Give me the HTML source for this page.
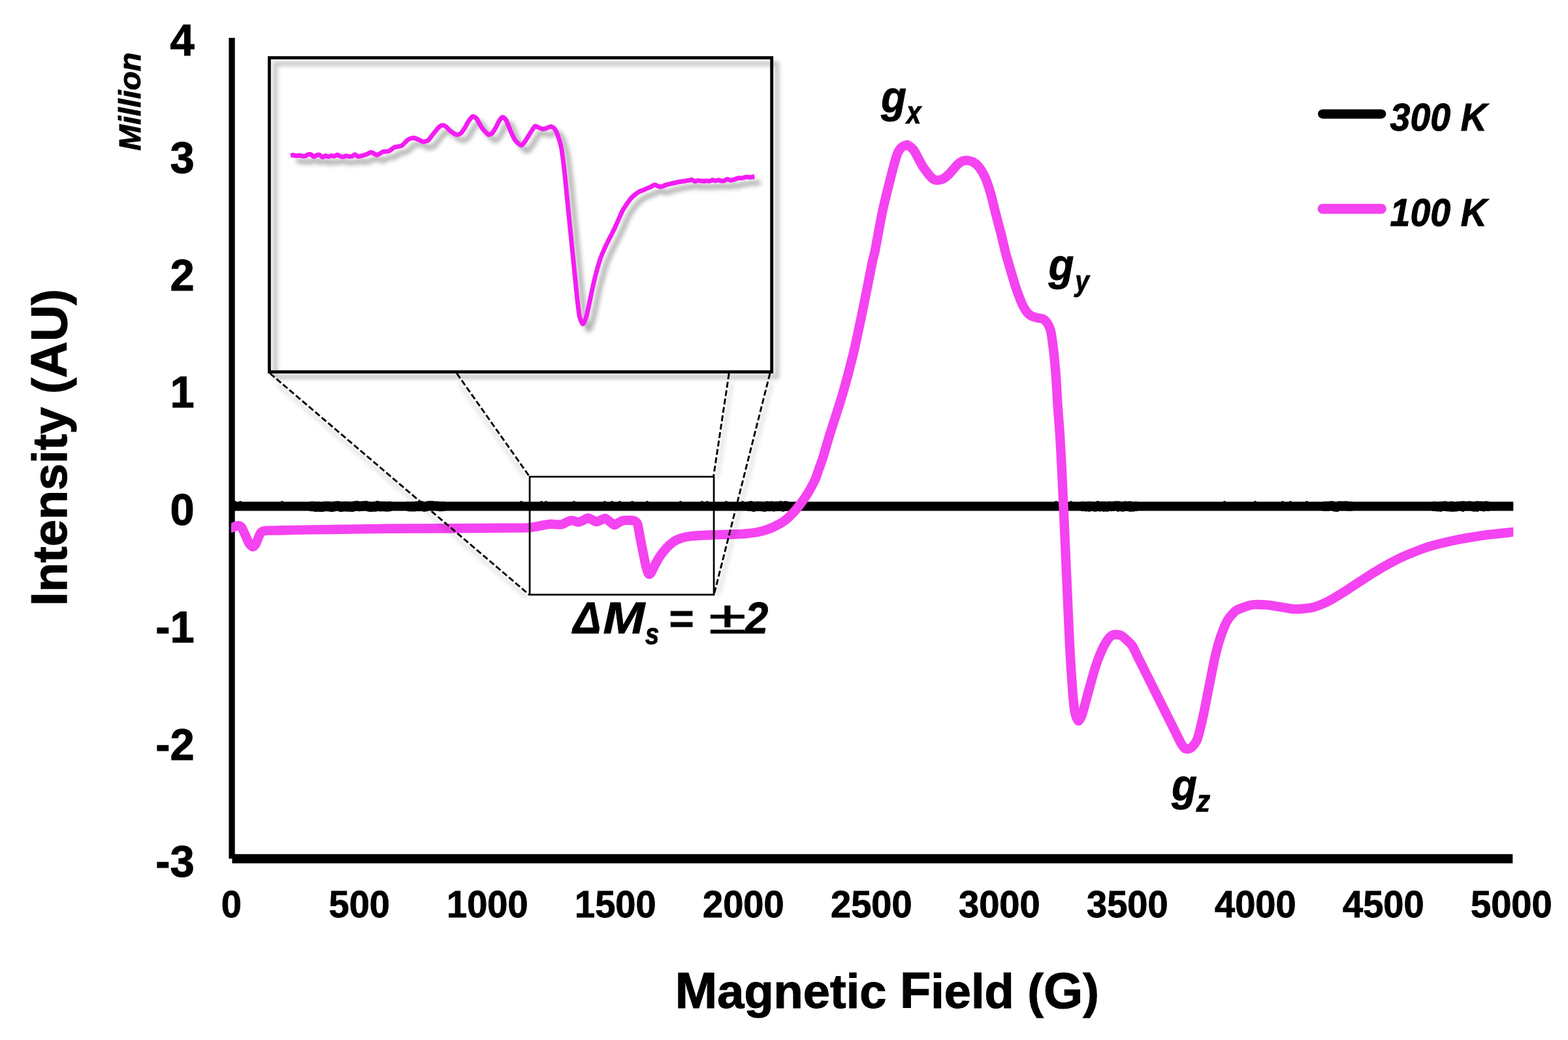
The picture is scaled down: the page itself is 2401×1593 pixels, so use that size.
<!DOCTYPE html>
<html lang="en"><head><meta charset="utf-8"><title>EPR spectrum</title>
<style>
html,body{margin:0;padding:0;background:#fff;}
body{width:2401px;height:1593px;overflow:hidden;font-family:"Liberation Sans",sans-serif;}
svg{display:block;}
</style></head><body>
<svg width="2401" height="1593" viewBox="0 0 2401 1593">
<defs>
<filter id="sh" x="-5%" y="-5%" width="115%" height="115%" filterUnits="objectBoundingBox">
<feGaussianBlur in="SourceAlpha" stdDeviation="3.5"/><feOffset dx="8.5" dy="8.5"/>
<feComponentTransfer><feFuncA type="linear" slope="0.34"/></feComponentTransfer>
<feMerge><feMergeNode/><feMergeNode in="SourceGraphic"/></feMerge>
</filter>
<filter id="bl" x="-20%" y="-20%" width="140%" height="140%"><feGaussianBlur stdDeviation="3"/></filter>
<filter id="bl2" x="-5%" y="-5%" width="110%" height="110%"><feGaussianBlur stdDeviation="3.0"/></filter>
</defs>
<rect x="0" y="0" width="2401" height="1593" fill="#fff"/>
<rect x="350.4" y="58" width="9.3" height="1257.2" fill="#000"/>
<rect x="355.4" y="1308.3" width="1960.9" height="14.1" fill="#000"/>
<path d="M355 775.6H2317.3" fill="none" stroke="#000" stroke-width="14.0"/>
<path d="M477.0 775.6L480.0 775.6L483.5 776.5L487.0 775.9L490.5 776.5L494.0 776.5L497.5 775.6L501.0 775.6L504.5 775.9L508.0 776.5L511.5 775.9L515.0 775.0L518.5 775.0L522.0 776.5L525.5 775.9L529.0 775.6L532.5 776.2L536.0 775.9L539.5 776.5L543.0 775.0L546.5 774.7L550.0 775.6L553.5 775.3L557.0 775.0L560.5 774.7L564.0 775.9L567.5 776.5L571.0 776.2L574.5 776.2L578.0 774.7L581.5 775.9L585.0 775.6L588.5 775.6L592.0 776.2L597.0 775.6" fill="none" stroke="#000" stroke-width="15.2" stroke-linejoin="round" stroke-linecap="round"/>
<path d="M625.0 775.6L628.0 776.2L631.5 775.9L635.0 776.2L638.5 775.0L642.0 775.9L645.5 774.7L649.0 776.5L652.5 775.9L656.0 774.7L659.5 774.7L663.0 774.7L666.5 775.0L670.0 775.0L673.5 775.9L679.0 775.6" fill="none" stroke="#000" stroke-width="14.7" stroke-linejoin="round" stroke-linecap="round"/>
<path d="M1147.0 775.6L1150.0 774.7L1153.5 776.5L1157.0 775.6L1160.5 775.3L1164.0 775.6L1167.5 775.9L1171.0 776.5L1174.5 775.0L1178.0 775.9L1181.5 775.0L1185.0 776.2L1188.5 775.3L1192.0 775.6L1195.5 774.7L1199.0 776.2L1202.5 774.7L1206.0 775.6" fill="none" stroke="#000" stroke-width="14.8" stroke-linejoin="round" stroke-linecap="round"/>
<path d="M1657.0 775.6L1660.0 775.6L1663.5 776.2L1667.0 775.3L1670.5 775.6L1674.0 775.9L1677.5 776.5L1681.0 774.7L1684.5 776.2L1688.0 775.3L1691.5 775.3L1695.0 776.5L1698.5 775.0L1702.0 775.9L1705.5 775.3L1709.0 774.7L1712.5 774.7L1716.0 775.9L1719.5 776.5L1723.0 774.7L1726.5 775.6L1730.0 774.7L1733.5 776.5L1740.0 775.6" fill="none" stroke="#000" stroke-width="14.6" stroke-linejoin="round" stroke-linecap="round"/>
<path d="M2027.0 775.6L2030.0 775.3L2033.5 775.6L2037.0 774.7L2040.5 774.7L2044.0 776.5L2047.5 776.2L2051.0 774.7L2054.5 775.0L2058.0 775.0L2061.5 774.7L2065.0 775.6L2069.0 775.6" fill="none" stroke="#000" stroke-width="14.5" stroke-linejoin="round" stroke-linecap="round"/>
<path d="M2195.0 775.6L2198.0 775.6L2201.5 776.2L2205.0 775.6L2208.5 775.6L2212.0 774.7L2215.5 775.9L2219.0 776.2L2222.5 775.0L2226.0 776.5L2229.5 776.2L2233.0 775.3L2236.5 775.3L2240.0 774.7L2243.5 775.3L2247.0 775.3L2250.5 774.7L2254.0 775.6L2257.5 776.5L2261.0 774.7L2264.5 775.0L2268.0 775.0L2271.5 776.2L2275.0 774.7L2279.0 775.6" fill="none" stroke="#000" stroke-width="14.6" stroke-linejoin="round" stroke-linecap="round"/>
<g fill="#000"><circle cx="360" cy="769.9" r="2.6"/><circle cx="368" cy="769.9" r="2.6"/><circle cx="432" cy="769.9" r="2.6"/><circle cx="798" cy="769.9" r="2.6"/><circle cx="829" cy="769.9" r="2.6"/><circle cx="836" cy="769.9" r="2.6"/><circle cx="879" cy="769.9" r="2.6"/><circle cx="926" cy="769.9" r="2.6"/><circle cx="937" cy="769.9" r="2.6"/><circle cx="949" cy="769.9" r="2.6"/><circle cx="968" cy="769.9" r="2.6"/><circle cx="991" cy="769.9" r="2.6"/><circle cx="1042" cy="769.9" r="2.6"/><circle cx="1075" cy="769.9" r="2.6"/><circle cx="1083" cy="769.9" r="2.6"/><circle cx="1112" cy="769.9" r="2.6"/><circle cx="1137" cy="769.9" r="2.6"/><circle cx="1617" cy="769.9" r="2.6"/><circle cx="1640" cy="769.9" r="2.6"/><circle cx="1875" cy="769.9" r="2.6"/><circle cx="1922" cy="769.9" r="2.6"/><circle cx="1964" cy="769.9" r="2.6"/><circle cx="1976" cy="769.9" r="2.6"/><circle cx="2001" cy="769.9" r="2.6"/><circle cx="1668" cy="781.3" r="2.6"/><circle cx="1690" cy="781.3" r="2.6"/><circle cx="1712" cy="781.3" r="2.6"/><circle cx="1730" cy="781.3" r="2.6"/><circle cx="2048" cy="781.3" r="2.6"/><circle cx="2206" cy="781.3" r="2.6"/><circle cx="2222" cy="781.3" r="2.6"/><circle cx="2240" cy="781.3" r="2.6"/><circle cx="2262" cy="781.3" r="2.6"/></g>
<clipPath id="cp"><rect x="354" y="0" width="1963.3" height="1593"/></clipPath>
<path clip-path="url(#cp)" d="M350.0 809.3C350.6 809.2 354.8 808.9 356.0 808.6C357.2 808.3 360.0 806.6 361.0 806.3C362.0 806.0 364.5 805.2 365.5 805.5C366.5 805.8 369.4 807.3 370.5 809.0C371.6 810.7 374.8 818.4 376.0 821.0C377.2 823.6 380.3 831.2 381.5 833.0C382.7 834.8 385.9 837.9 387.0 837.9C388.1 837.9 391.0 834.6 392.0 833.0C393.0 831.4 395.1 824.9 396.0 823.0C396.9 821.1 398.9 816.5 400.0 815.5C401.1 814.5 404.2 813.5 406.0 813.2C407.8 812.9 411.8 813.1 416.5 813.0C421.2 812.9 441.1 812.5 450.0 812.3C458.9 812.1 484.5 811.7 500.0 811.5C515.5 811.3 573.7 810.4 595.0 810.2C616.3 810.0 679.2 809.7 700.0 809.6C720.8 809.5 778.2 809.1 790.0 809.0C801.8 808.9 807.6 808.7 811.0 808.5C814.4 808.3 819.4 807.2 822.0 806.8C824.6 806.4 832.7 804.7 835.0 804.3C837.3 803.9 842.1 803.3 844.0 803.2C845.9 803.1 851.2 803.8 853.0 803.8C854.8 803.8 858.9 804.0 860.5 803.6C862.1 803.2 866.5 800.7 868.0 800.0C869.5 799.3 873.5 797.6 874.8 797.5C876.1 797.4 878.8 798.3 880.0 798.6C881.2 798.9 884.4 800.4 885.8 800.3C887.2 800.2 891.5 798.2 893.0 797.5C894.5 796.8 898.7 794.0 900.1 793.9C901.5 793.8 905.1 795.9 906.5 796.5C907.9 797.1 911.9 799.5 913.3 799.6C914.7 799.7 918.6 797.6 920.0 797.0C921.4 796.4 925.1 794.1 926.5 794.3C927.9 794.5 931.5 797.7 933.0 798.8C934.5 799.9 939.3 804.4 940.8 804.6C942.3 804.8 945.6 801.7 947.0 801.0C948.4 800.3 952.5 798.1 954.0 797.7C955.5 797.3 959.5 797.3 961.0 797.3C962.5 797.3 967.0 797.3 968.3 797.5C969.6 797.7 972.1 798.3 973.0 799.0C973.9 799.7 975.7 801.2 976.5 804.0C977.3 806.8 979.5 820.4 980.4 825.0C981.3 829.6 983.9 842.4 984.8 847.0C985.7 851.6 988.3 864.5 989.2 868.0C990.1 871.5 992.7 878.8 993.6 879.8C994.5 880.8 996.7 878.2 997.5 877.0C998.3 875.8 1000.1 871.4 1001.3 869.0C1002.5 866.6 1007.0 857.8 1009.0 854.7C1011.0 851.6 1017.7 843.0 1020.0 840.4C1022.3 837.8 1028.7 832.1 1031.0 830.5C1033.3 828.9 1039.0 826.0 1042.0 825.0C1045.0 824.0 1053.3 822.1 1058.7 821.5C1064.1 820.9 1085.5 819.9 1092.7 819.6C1099.9 819.3 1121.0 818.9 1126.6 818.7C1132.2 818.5 1141.4 817.9 1145.0 817.5C1148.6 817.1 1157.4 816.0 1160.5 815.4C1163.6 814.8 1171.3 812.7 1174.0 811.8C1176.7 810.9 1182.9 808.5 1186.0 806.9C1189.1 805.3 1199.4 799.6 1203.0 796.7C1206.6 793.8 1216.3 784.0 1219.9 779.7C1223.5 775.4 1233.8 760.9 1236.9 756.0C1240.0 751.1 1246.9 737.7 1248.7 733.9C1250.5 730.1 1252.2 723.6 1253.5 720.0C1254.8 716.4 1258.8 705.8 1260.6 700.0C1262.4 694.2 1267.6 675.5 1270.8 665.3C1274.0 655.1 1286.4 617.2 1290.2 604.1C1294.0 591.0 1303.3 556.0 1306.5 542.9C1309.7 529.8 1317.5 492.5 1319.8 481.6C1322.1 470.7 1326.3 449.5 1328.0 440.8C1329.7 432.1 1334.9 405.8 1336.1 400.0C1337.3 394.2 1338.0 394.1 1339.6 386.0C1341.2 377.9 1348.8 335.7 1351.4 323.6C1354.0 311.5 1361.5 281.8 1363.8 272.7C1366.1 263.6 1371.4 243.6 1373.1 238.7C1374.8 233.8 1378.3 228.3 1380.0 226.6C1381.7 224.9 1387.0 222.4 1388.6 222.3C1390.2 222.2 1393.5 224.8 1394.7 225.8C1395.9 226.8 1398.4 229.0 1400.3 232.0C1402.2 235.0 1409.6 249.9 1412.1 254.0C1414.6 258.1 1422.1 267.7 1424.0 270.0C1425.9 272.3 1428.7 274.5 1430.0 275.2C1431.3 275.9 1434.4 276.4 1435.9 276.3C1437.4 276.2 1442.2 275.4 1444.0 274.5C1445.8 273.6 1450.4 270.0 1452.8 267.6C1455.2 265.2 1464.1 254.5 1466.4 252.3C1468.7 250.1 1472.4 247.7 1474.0 247.0C1475.6 246.3 1480.0 246.0 1481.7 246.2C1483.4 246.4 1488.2 247.5 1490.0 248.5C1491.8 249.5 1496.7 253.1 1498.7 255.7C1500.7 258.3 1506.8 268.2 1508.8 272.7C1510.8 277.2 1515.5 291.8 1517.3 298.1C1519.1 304.4 1524.2 325.7 1525.8 332.0C1527.4 338.3 1531.1 351.7 1532.6 357.5C1534.1 363.3 1538.3 381.5 1539.4 386.0C1540.5 390.5 1541.6 394.2 1543.3 400.0C1545.0 405.8 1553.4 434.3 1555.5 440.8C1557.6 447.3 1561.7 457.7 1563.0 461.0C1564.3 464.3 1566.7 469.5 1567.8 471.4C1568.9 473.3 1571.9 477.7 1573.0 479.0C1574.1 480.3 1576.4 482.8 1578.0 483.7C1579.6 484.6 1586.5 486.8 1588.2 487.3C1589.9 487.8 1592.9 487.7 1594.0 488.0C1595.1 488.3 1597.4 489.1 1598.4 489.8C1599.4 490.5 1602.4 493.3 1603.5 495.0C1604.6 496.7 1607.6 502.1 1608.6 506.1C1609.6 510.1 1611.8 525.5 1612.7 532.7C1613.6 539.9 1615.9 563.7 1616.7 573.5C1617.5 583.3 1619.1 614.7 1619.8 624.5C1620.5 634.3 1622.2 655.1 1622.9 665.3C1623.6 675.5 1625.1 704.6 1625.9 720.0C1626.7 735.4 1629.1 790.8 1630.0 810.0C1630.9 829.2 1633.1 880.9 1634.0 900.0C1634.9 919.1 1637.1 972.2 1638.0 989.3C1638.9 1006.4 1641.6 1049.7 1642.5 1060.7C1643.4 1071.7 1645.1 1087.3 1646.0 1092.0C1646.9 1096.7 1650.2 1104.3 1651.4 1104.6C1652.6 1104.9 1655.7 1098.7 1657.0 1095.0C1658.3 1091.3 1661.9 1077.1 1664.0 1069.6C1666.1 1062.1 1673.9 1032.8 1676.4 1025.0C1678.9 1017.2 1685.0 1001.2 1687.1 996.4C1689.2 991.6 1694.4 982.8 1696.0 980.4C1697.6 978.0 1700.7 974.9 1702.0 974.0C1703.3 973.1 1707.1 972.5 1708.6 972.4C1710.1 972.3 1714.5 972.8 1716.0 973.5C1717.5 974.2 1721.0 976.9 1722.9 978.6C1724.8 980.3 1731.3 985.9 1733.6 989.3C1735.9 992.7 1741.6 1005.4 1744.3 1010.7C1747.0 1016.0 1755.5 1033.2 1758.6 1039.3C1761.7 1045.4 1770.0 1062.2 1772.9 1067.9C1775.8 1073.6 1782.7 1087.6 1785.4 1092.9C1788.1 1098.2 1795.4 1113.0 1797.9 1117.9C1800.4 1122.8 1806.9 1136.2 1808.6 1139.3C1810.3 1142.4 1812.9 1145.6 1814.0 1146.5C1815.1 1147.4 1818.0 1147.9 1819.3 1147.6C1820.6 1147.3 1824.5 1145.7 1826.0 1144.0C1827.5 1142.3 1831.8 1137.2 1833.6 1132.1C1835.4 1127.0 1840.6 1105.0 1842.5 1096.4C1844.4 1087.8 1849.5 1061.3 1851.4 1051.8C1853.3 1042.3 1858.5 1015.3 1860.4 1007.1C1862.3 998.9 1867.2 981.1 1869.3 975.0C1871.4 968.9 1877.5 954.2 1880.0 950.0C1882.5 945.8 1889.3 938.0 1892.5 935.7C1895.7 933.4 1907.4 929.6 1910.4 928.6C1913.4 927.6 1917.2 926.7 1920.4 926.5C1923.6 926.3 1936.6 926.7 1940.8 927.1C1945.0 927.5 1955.6 929.3 1960.0 930.0C1964.4 930.7 1977.5 933.0 1981.6 933.3C1985.7 933.6 1994.7 932.8 1998.0 932.5C2001.3 932.2 2008.5 931.3 2012.2 930.2C2015.9 929.1 2027.2 924.8 2032.7 922.0C2038.2 919.2 2055.7 908.5 2063.3 903.7C2070.9 898.9 2095.4 882.3 2104.1 877.1C2112.8 871.9 2136.2 858.8 2144.9 854.7C2153.6 850.6 2177.0 841.2 2185.7 838.4C2194.4 835.6 2217.8 830.1 2226.5 828.2C2235.2 826.3 2257.6 822.4 2267.3 821.0C2277.0 819.6 2311.1 816.0 2317.3 815.3C2323.5 814.6 2324.2 814.6 2325.0 814.5" fill="none" stroke="#F443F1" stroke-width="14.4" stroke-linejoin="round" stroke-linecap="butt" transform="translate(0 -0.4)"/>
<line x1="424.1" y1="588.5" x2="807.0" y2="915.5" stroke="#000" stroke-opacity="0.15" stroke-width="4" filter="url(#bl)"/>
<line x1="703.0" y1="587.0" x2="805.5" y2="732.5" stroke="#000" stroke-opacity="0.15" stroke-width="4" filter="url(#bl)"/>
<line x1="1120.5" y1="586.0" x2="1098.6" y2="731.5" stroke="#000" stroke-opacity="0.15" stroke-width="4" filter="url(#bl)"/>
<line x1="1182.0" y1="586.5" x2="1099.5" y2="912.5" stroke="#000" stroke-opacity="0.15" stroke-width="4" filter="url(#bl)"/>
<rect x="421.4" y="97.4" width="768.4" height="479.8" fill="none" stroke="#000" stroke-opacity="0.25" stroke-width="6.2" filter="url(#bl2)"/>
<rect x="412.4" y="88.5" width="769.3" height="481.15" fill="none" stroke="#000" stroke-width="4.8"/>
<g filter="url(#sh)">
<path d="M445.0 238.4C445.4 238.3 448.1 237.4 449.0 237.4C449.9 237.5 452.6 238.7 453.5 238.8C454.4 238.9 457.1 238.0 458.0 238.0C458.9 238.1 461.6 238.9 462.5 239.1C463.4 239.2 466.1 239.4 467.0 239.2C467.9 238.9 470.6 237.0 471.5 236.7C472.4 236.4 475.1 236.1 476.0 236.5C476.9 236.8 479.6 240.0 480.5 240.1C481.4 240.2 484.1 237.8 485.0 237.5C485.9 237.3 488.6 237.1 489.5 237.4C490.4 237.8 493.1 240.7 494.0 240.8C494.9 240.9 497.6 238.5 498.5 238.5C499.4 238.4 502.1 240.1 503.0 240.1C503.9 240.1 506.6 238.6 507.5 238.5C508.4 238.4 511.1 239.4 512.0 239.2C512.9 239.1 515.6 237.1 516.5 237.1C517.4 237.1 520.1 238.9 521.0 239.2C521.9 239.5 524.6 240.3 525.5 240.2C526.4 240.2 529.1 238.8 530.0 238.7C530.9 238.6 533.6 239.6 534.5 239.7C535.4 239.7 538.1 239.7 539.0 239.4C539.9 239.1 542.6 236.6 543.5 236.7C544.4 236.7 547.1 239.5 548.0 239.7C548.9 240.0 551.2 239.3 552.5 239.0C553.8 238.7 559.5 237.1 561.0 236.5C562.5 235.9 566.8 233.4 568.0 233.3C569.2 233.2 572.1 235.1 573.0 235.5C573.9 235.9 576.4 237.6 577.3 237.5C578.2 237.4 581.1 235.5 582.0 235.0C582.9 234.5 585.3 232.7 586.6 232.4C587.9 232.1 593.8 231.9 595.0 231.6C596.2 231.3 598.1 229.6 599.0 229.0C599.9 228.4 602.6 226.1 603.6 225.7C604.6 225.3 607.8 224.9 609.0 224.6C610.2 224.3 614.4 223.7 615.4 223.1C616.4 222.5 618.6 219.8 619.5 219.0C620.4 218.2 622.9 215.3 623.9 214.6C624.9 213.9 628.0 212.3 629.0 212.0C630.0 211.7 632.9 211.0 634.1 211.2C635.3 211.4 639.6 213.4 641.0 214.0C642.4 214.6 646.6 217.0 647.7 217.2C648.8 217.4 651.2 216.6 652.0 216.3C652.8 216.0 655.1 215.5 656.1 214.6C657.1 213.7 660.8 208.5 662.0 207.0C663.2 205.5 666.9 200.7 668.0 199.4C669.1 198.1 672.0 194.8 673.0 194.0C674.0 193.2 677.2 191.7 678.2 191.7C679.2 191.7 681.8 193.1 683.0 194.0C684.2 194.9 688.4 199.8 690.0 201.0C691.6 202.2 697.1 205.8 698.6 206.2C700.1 206.5 704.1 205.4 705.3 204.5C706.5 203.6 709.8 198.8 711.0 197.0C712.2 195.2 715.7 188.4 717.0 186.5C718.3 184.6 722.7 178.6 724.0 178.2C725.3 177.8 728.6 180.2 730.0 182.0C731.4 183.8 736.2 193.6 738.0 196.0C739.8 198.4 746.2 205.4 747.8 206.2C749.4 206.9 752.8 204.7 754.0 203.5C755.2 202.3 758.9 195.9 760.0 194.0C761.1 192.1 764.0 185.4 765.0 184.0C766.0 182.6 768.8 179.6 769.8 179.6C770.8 179.6 773.8 181.9 775.0 184.0C776.2 186.1 780.4 197.5 781.8 200.6C783.2 203.7 787.4 212.8 789.0 215.0C790.6 217.2 796.2 222.1 797.6 222.4C799.0 222.7 801.7 219.7 803.0 218.0C804.3 216.3 809.7 207.3 810.9 205.4C812.1 203.5 814.1 200.2 815.0 199.0C815.9 197.8 818.5 193.7 819.4 193.3C820.3 192.9 822.9 194.6 824.0 195.0C825.1 195.4 829.0 197.3 830.3 197.4C831.6 197.5 835.7 196.7 837.0 196.3C838.3 195.9 842.4 193.7 843.6 193.8C844.8 193.9 848.0 195.8 849.0 197.0C850.0 198.2 852.3 202.6 853.3 205.4C854.3 208.2 858.2 219.2 859.3 224.8C860.4 230.4 863.2 252.7 864.2 261.2C865.2 269.7 868.0 299.9 869.0 309.6C870.0 319.3 872.9 348.4 873.9 358.1C874.9 367.8 877.7 396.8 878.7 406.5C879.7 416.2 882.8 447.2 883.6 455.0C884.5 462.8 886.4 480.0 887.2 484.1C888.1 488.2 891.2 495.6 892.1 496.2C893.0 496.8 895.3 491.7 896.0 490.0C896.7 488.3 898.4 483.2 899.3 479.2C900.2 475.2 904.1 456.2 905.4 450.2C906.7 444.1 911.2 424.3 912.7 418.7C914.2 413.1 918.2 399.0 919.9 394.4C921.6 389.8 927.4 377.2 929.6 372.6C931.8 368.0 939.3 353.5 941.7 348.4C944.1 343.3 951.6 325.8 953.8 321.7C956.0 317.6 961.9 309.4 963.5 307.2C965.1 305.0 968.5 301.3 970.0 300.0C971.5 298.7 976.6 294.8 978.1 293.9C979.6 293.0 983.5 291.8 985.0 291.2C986.5 290.6 991.4 288.3 992.6 287.8C993.8 287.3 996.0 286.5 997.0 286.0C998.0 285.5 1001.3 283.1 1002.3 283.0C1003.3 282.9 1006.0 284.5 1007.0 284.8C1008.0 285.1 1010.8 286.2 1012.0 286.1C1013.2 286.0 1017.5 283.9 1019.0 283.5C1020.5 283.1 1024.6 282.1 1026.5 281.7C1028.4 281.2 1035.6 279.5 1038.0 279.0C1040.4 278.5 1049.1 277.2 1050.8 276.9C1052.5 276.6 1054.1 276.4 1055.0 276.2C1055.9 276.1 1058.6 275.2 1059.5 275.3C1060.4 275.5 1063.1 277.6 1064.0 277.7C1064.9 277.8 1067.6 276.5 1068.5 276.5C1069.4 276.4 1072.1 277.0 1073.0 277.1C1073.9 277.2 1076.6 277.5 1077.5 277.5C1078.4 277.5 1081.1 276.9 1082.0 276.9C1082.9 276.9 1085.6 277.6 1086.5 277.4C1087.4 277.3 1090.1 275.8 1091.0 275.8C1091.9 275.7 1094.6 276.9 1095.5 276.9C1096.4 276.9 1099.1 275.7 1100.0 275.7C1100.9 275.8 1103.6 277.0 1104.5 277.1C1105.4 277.2 1108.1 277.1 1109.0 276.9C1109.9 276.6 1112.5 274.5 1113.5 274.4C1114.5 274.4 1117.5 276.1 1118.6 276.2C1119.6 276.3 1122.8 275.3 1124.0 275.0C1125.2 274.7 1129.4 273.0 1130.7 272.8C1132.0 272.6 1135.8 272.8 1137.0 272.6C1138.2 272.4 1141.8 271.1 1143.0 271.0C1144.2 270.9 1147.8 271.6 1149.0 271.5C1150.2 271.4 1154.8 270.5 1155.4 270.4" fill="none" stroke="#F31BF3" stroke-width="7.0" stroke-linejoin="round" stroke-linecap="butt"/>
</g>
<line x1="413.5" y1="572.0" x2="810.5" y2="911.0" stroke="#000" stroke-width="2.9" stroke-dasharray="9 4"/>
<line x1="699.5" y1="572.0" x2="810.5" y2="729.5" stroke="#000" stroke-width="2.9" stroke-dasharray="9 4"/>
<line x1="1116.3" y1="572.0" x2="1092.6" y2="729.5" stroke="#000" stroke-width="2.9" stroke-dasharray="9 4"/>
<line x1="1179.0" y1="572.0" x2="1093.5" y2="910.0" stroke="#000" stroke-width="2.9" stroke-dasharray="9 4"/>
<rect x="811.1" y="730.2" width="282.0" height="180.7" fill="none" stroke="#000" stroke-width="2.7"/>
<line x1="2025.2" y1="174.6" x2="2115.3" y2="174.6" stroke="#000" stroke-width="14.2" stroke-linecap="round"/>
<line x1="2025.2" y1="319.8" x2="2115.3" y2="319.8" stroke="#F443F1" stroke-width="15.2" stroke-linecap="round"/>
<text transform="translate(297.70 85.10) scale(0.9750 1.0000)" font-size="68.60" font-weight="bold" font-style="normal" text-anchor="end" fill="#000" stroke="#000" stroke-width="1.00" stroke-linejoin="miter" font-family="'Liberation Sans', sans-serif">4</text>
<text transform="translate(297.70 264.86) scale(0.9750 1.0000)" font-size="68.60" font-weight="bold" font-style="normal" text-anchor="end" fill="#000" stroke="#000" stroke-width="1.00" stroke-linejoin="miter" font-family="'Liberation Sans', sans-serif">3</text>
<text transform="translate(297.70 444.62) scale(0.9750 1.0000)" font-size="68.60" font-weight="bold" font-style="normal" text-anchor="end" fill="#000" stroke="#000" stroke-width="1.00" stroke-linejoin="miter" font-family="'Liberation Sans', sans-serif">2</text>
<text transform="translate(297.70 624.38) scale(0.9750 1.0000)" font-size="68.60" font-weight="bold" font-style="normal" text-anchor="end" fill="#000" stroke="#000" stroke-width="1.00" stroke-linejoin="miter" font-family="'Liberation Sans', sans-serif">1</text>
<text transform="translate(297.70 804.14) scale(0.9750 1.0000)" font-size="68.60" font-weight="bold" font-style="normal" text-anchor="end" fill="#000" stroke="#000" stroke-width="1.00" stroke-linejoin="miter" font-family="'Liberation Sans', sans-serif">0</text>
<text transform="translate(297.70 983.90) scale(0.9750 1.0000)" font-size="68.60" font-weight="bold" font-style="normal" text-anchor="end" fill="#000" stroke="#000" stroke-width="1.00" stroke-linejoin="miter" font-family="'Liberation Sans', sans-serif">-1</text>
<text transform="translate(297.70 1163.66) scale(0.9750 1.0000)" font-size="68.60" font-weight="bold" font-style="normal" text-anchor="end" fill="#000" stroke="#000" stroke-width="1.00" stroke-linejoin="miter" font-family="'Liberation Sans', sans-serif">-2</text>
<text transform="translate(297.70 1343.42) scale(0.9750 1.0000)" font-size="68.60" font-weight="bold" font-style="normal" text-anchor="end" fill="#000" stroke="#000" stroke-width="1.00" stroke-linejoin="miter" font-family="'Liberation Sans', sans-serif">-3</text>
<text transform="translate(354.30 1405.10) scale(0.9900 1.0200)" font-size="56.60" font-weight="bold" font-style="normal" text-anchor="middle" fill="#000" stroke="#000" stroke-width="0.90" stroke-linejoin="miter" font-family="'Liberation Sans', sans-serif">0</text>
<text transform="translate(550.30 1405.10) scale(0.9900 1.0200)" font-size="56.60" font-weight="bold" font-style="normal" text-anchor="middle" fill="#000" stroke="#000" stroke-width="0.90" stroke-linejoin="miter" font-family="'Liberation Sans', sans-serif">500</text>
<text transform="translate(746.30 1405.10) scale(0.9900 1.0200)" font-size="56.60" font-weight="bold" font-style="normal" text-anchor="middle" fill="#000" stroke="#000" stroke-width="0.90" stroke-linejoin="miter" font-family="'Liberation Sans', sans-serif">1000</text>
<text transform="translate(942.30 1405.10) scale(0.9900 1.0200)" font-size="56.60" font-weight="bold" font-style="normal" text-anchor="middle" fill="#000" stroke="#000" stroke-width="0.90" stroke-linejoin="miter" font-family="'Liberation Sans', sans-serif">1500</text>
<text transform="translate(1138.30 1405.10) scale(0.9900 1.0200)" font-size="56.60" font-weight="bold" font-style="normal" text-anchor="middle" fill="#000" stroke="#000" stroke-width="0.90" stroke-linejoin="miter" font-family="'Liberation Sans', sans-serif">2000</text>
<text transform="translate(1334.30 1405.10) scale(0.9900 1.0200)" font-size="56.60" font-weight="bold" font-style="normal" text-anchor="middle" fill="#000" stroke="#000" stroke-width="0.90" stroke-linejoin="miter" font-family="'Liberation Sans', sans-serif">2500</text>
<text transform="translate(1530.30 1405.10) scale(0.9900 1.0200)" font-size="56.60" font-weight="bold" font-style="normal" text-anchor="middle" fill="#000" stroke="#000" stroke-width="0.90" stroke-linejoin="miter" font-family="'Liberation Sans', sans-serif">3000</text>
<text transform="translate(1726.30 1405.10) scale(0.9900 1.0200)" font-size="56.60" font-weight="bold" font-style="normal" text-anchor="middle" fill="#000" stroke="#000" stroke-width="0.90" stroke-linejoin="miter" font-family="'Liberation Sans', sans-serif">3500</text>
<text transform="translate(1922.30 1405.10) scale(0.9900 1.0200)" font-size="56.60" font-weight="bold" font-style="normal" text-anchor="middle" fill="#000" stroke="#000" stroke-width="0.90" stroke-linejoin="miter" font-family="'Liberation Sans', sans-serif">4000</text>
<text transform="translate(2118.30 1405.10) scale(0.9900 1.0200)" font-size="56.60" font-weight="bold" font-style="normal" text-anchor="middle" fill="#000" stroke="#000" stroke-width="0.90" stroke-linejoin="miter" font-family="'Liberation Sans', sans-serif">4500</text>
<text transform="translate(2314.30 1405.10) scale(0.9900 1.0200)" font-size="56.60" font-weight="bold" font-style="normal" text-anchor="middle" fill="#000" stroke="#000" stroke-width="0.90" stroke-linejoin="miter" font-family="'Liberation Sans', sans-serif">5000</text>
<text transform="translate(1358.30 1543.90) scale(0.9870 1.0000)" font-size="75.00" font-weight="bold" font-style="normal" text-anchor="middle" fill="#000" stroke="#000" stroke-width="1.20" stroke-linejoin="miter" font-family="'Liberation Sans', sans-serif"><tspan font-size="78.5">M</tspan>agnetic <tspan font-size="78.5">F</tspan>ield (<tspan font-size="78.5">G</tspan>)</text>
<text transform="translate(101.80 685.40) rotate(-90) scale(0.9840 1.0000)" font-size="75.00" font-weight="bold" font-style="normal" text-anchor="middle" fill="#000" stroke="#000" stroke-width="1.20" stroke-linejoin="miter" font-family="'Liberation Sans', sans-serif"><tspan font-size="78.5">I</tspan>ntensity (<tspan font-size="78.5">A</tspan><tspan font-size="78.5">U</tspan>)</text>
<text transform="translate(214.90 155.50) rotate(-90) scale(1.0000 0.9900)" font-size="47.50" font-weight="bold" font-style="italic" text-anchor="middle" fill="#000" stroke="#000" stroke-width="1.00" stroke-linejoin="miter" font-family="'Liberation Sans', sans-serif">Million</text>
<text transform="translate(2128.60 200.00) scale(0.9620 1.0300)" font-size="57.70" font-weight="bold" font-style="italic" text-anchor="start" fill="#000" stroke="#000" stroke-width="1.00" stroke-linejoin="miter" font-family="'Liberation Sans', sans-serif">300 K</text>
<text transform="translate(2128.60 346.00) scale(0.9620 1.0300)" font-size="57.70" font-weight="bold" font-style="italic" text-anchor="start" fill="#000" stroke="#000" stroke-width="1.00" stroke-linejoin="miter" font-family="'Liberation Sans', sans-serif">100 K</text>
<text font-weight="bold" font-style="italic" fill="#000" stroke="#000" stroke-linejoin="miter" font-family="'Liberation Sans', sans-serif"><tspan x="1349.20" y="171.80" font-size="68.00" textLength="38.63" lengthAdjust="spacingAndGlyphs" stroke-width="1.00">g</tspan><tspan x="1388.00" y="189.00" font-size="48.00" textLength="22.42" lengthAdjust="spacingAndGlyphs" stroke-width="0.90">x</tspan></text>
<text font-weight="bold" font-style="italic" fill="#000" stroke="#000" stroke-linejoin="miter" font-family="'Liberation Sans', sans-serif"><tspan x="1605.80" y="429.20" font-size="68.00" textLength="38.63" lengthAdjust="spacingAndGlyphs" stroke-width="1.00">g</tspan><tspan x="1646.30" y="445.80" font-size="45.00" textLength="21.52" lengthAdjust="spacingAndGlyphs" stroke-width="0.90">y</tspan></text>
<text font-weight="bold" font-style="italic" fill="#000" stroke="#000" stroke-linejoin="miter" font-family="'Liberation Sans', sans-serif"><tspan x="1794.30" y="1225.50" font-size="68.00" textLength="38.63" lengthAdjust="spacingAndGlyphs" stroke-width="1.00">g</tspan><tspan x="1831.70" y="1243.00" font-size="46.00" textLength="21.39" lengthAdjust="spacingAndGlyphs" stroke-width="0.90">z</tspan></text>
<text font-weight="bold" font-style="italic" fill="#000" stroke="#000" stroke-linejoin="miter" font-family="'Liberation Sans', sans-serif"><tspan x="877.50" y="970.40" font-size="69.00" textLength="43.08" lengthAdjust="spacingAndGlyphs" stroke-width="0.90">Δ</tspan><tspan x="923.50" y="970.40" font-size="69.00" textLength="63.80" lengthAdjust="spacingAndGlyphs" stroke-width="0.90">M</tspan><tspan x="988.00" y="987.00" font-size="46.56" textLength="21.36" lengthAdjust="spacingAndGlyphs" stroke-width="0.90">s</tspan> <tspan x="1023.30" y="968.90" font-size="62.10" textLength="38.28" lengthAdjust="spacingAndGlyphs" stroke-width="0.80">=</tspan> <tspan x="1085.50" y="970.40" font-size="71.07" textLength="56.80" lengthAdjust="spacingAndGlyphs" stroke-width="1.20" font-weight="normal">±</tspan><tspan x="1141.00" y="970.40" font-size="69.00" textLength="35.30" lengthAdjust="spacingAndGlyphs" stroke-width="0.90">2</tspan></text>
</svg>
</body></html>
